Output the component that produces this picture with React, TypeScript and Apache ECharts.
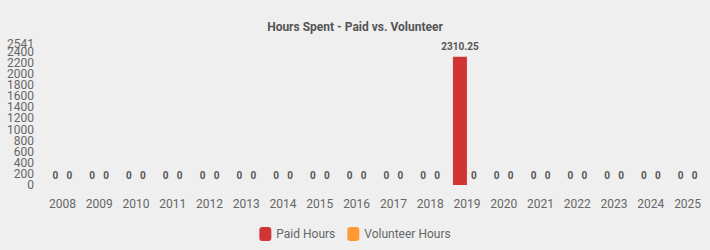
import React, { useEffect, useRef } from "react";
import * as echarts from "echarts";

const categories = ["2008","2009","2010","2011","2012","2013","2014","2015","2016","2017","2018","2019","2020","2021","2022","2023","2024","2025"];
const paidHours = [0,0,0,0,0,0,0,0,0,0,0,2310.25,0,0,0,0,0,0];
const volunteerHours = [0,0,0,0,0,0,0,0,0,0,0,0,0,0,0,0,0,0];
const yMax = 2541;

export default function App() {
  const ref = useRef<HTMLDivElement>(null);
  useEffect(() => {
    const chart = echarts.init(ref.current!, null, { renderer: "svg" });
    const label = {
      show: true,
      position: "top" as const,
      distance: 5,
      fontSize: 10,
      fontWeight: "bold" as const,
      color: "#555",
      fontFamily: "Roboto",
    };
    const yLabel = {
      fontSize: 12,
      color: "#666",
      margin: 10,
      fontFamily: "Roboto",
      hideOverlap: false,
      formatter: (v: number) => String(v),
    };
    chart.setOption({
      animation: false,
      backgroundColor: "#efefef",
      title: {
        text: "Hours Spent - Paid vs. Volunteer",
        left: "center",
        top: 16,
        textStyle: { fontSize: 12, fontWeight: "bold", color: "#555", fontFamily: "Roboto" },
      },
      legend: {
        bottom: 4,
        left: "center",
        itemWidth: 12,
        itemHeight: 14,
        itemGap: 12,
        textStyle: { fontSize: 12, color: "#666", fontFamily: "Roboto" },
        data: ["Paid Hours", "Volunteer Hours"],
      },
      grid: { left: 44, right: 4, top: 44, bottom: 65 },
      xAxis: {
        type: "category",
        data: categories,
        axisLine: { show: false },
        axisTick: { show: false },
        axisLabel: { fontSize: 12, color: "#666", margin: 13, fontFamily: "Roboto", interval: 0 },
      },
      yAxis: [
        {
          type: "value",
          position: "left",
          min: 0,
          max: yMax,
          interval: 200,
          splitLine: { show: false },
          axisLine: { show: false },
          axisTick: { show: false },
          axisLabel: { ...yLabel, showMinLabel: false, showMaxLabel: false },
        },
        {
          type: "value",
          position: "left",
          offset: 0,
          min: 0,
          max: yMax,
          interval: yMax,
          splitLine: { show: false },
          axisLine: { show: false },
          axisTick: { show: false },
          axisLabel: { ...yLabel, showMinLabel: true, showMaxLabel: true },
        },
      ],
      series: [
        {
          name: "Paid Hours",
          type: "bar",
          data: paidHours,
          barWidth: 14,
          barGap: "0%",
          itemStyle: { color: "#d03434" },
          label,
        },
        {
          name: "Volunteer Hours",
          type: "bar",
          data: volunteerHours,
          barWidth: 14,
          barGap: "0%",
          itemStyle: { color: "#ff9933" },
          label,
        },
      ],
    });
    return () => chart.dispose();
  }, []);
  return <div ref={ref} style={{ width: 710, height: 250, position: "fixed", left: 0, top: 0 }} />;
}
